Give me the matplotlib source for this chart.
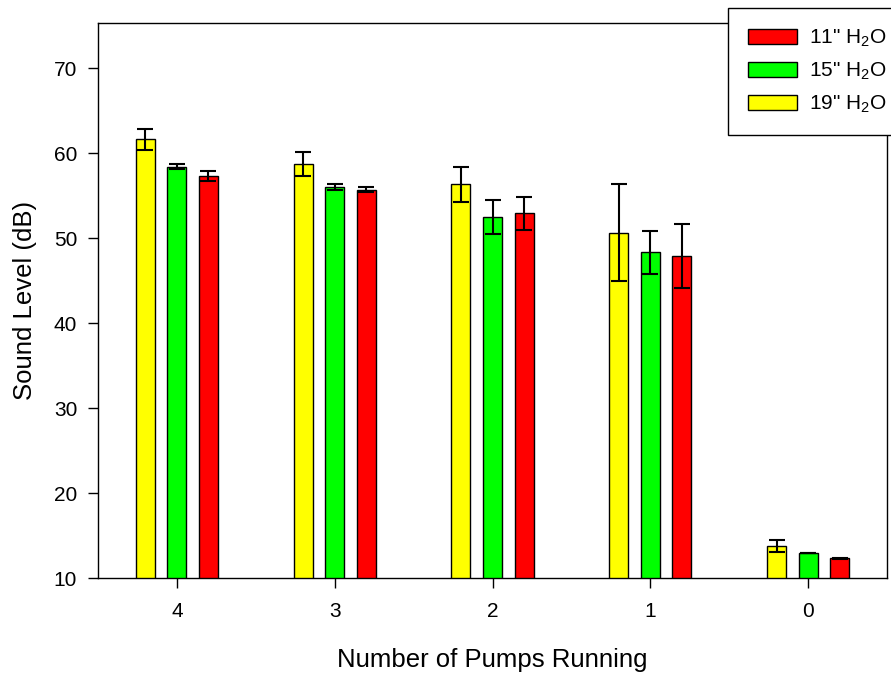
import numpy as np
import matplotlib
matplotlib.use("Agg")
import matplotlib.pyplot as plt

plt.rcParams['font.family'] = ['Liberation Sans', 'DejaVu Sans']
plt.rcParams['mathtext.fontset'] = 'custom'
plt.rcParams['mathtext.rm'] = 'Liberation Sans'
plt.rcParams['mathtext.it'] = 'Liberation Sans'

pumps = ['4', '3', '2', '1', '0']
h19 = [61.6, 58.7, 56.3, 50.6, 13.8]
h19_err = [1.2, 1.4, 2.1, 5.7, 0.7]
h15 = [58.4, 56.0, 52.5, 48.3, 12.95]
h15_err = [0.3, 0.3, 2.0, 2.5, 0.05]
h11 = [57.3, 55.7, 52.9, 47.9, 12.3]
h11_err = [0.6, 0.3, 1.9, 3.8, 0.1]

fig = plt.figure(figsize=(8.91, 6.73), dpi=100)
# axes box: x 98..887, y 23..578 px
ax = fig.add_axes([98/891, 95/673, 789/891, 555/673])

x = np.arange(len(pumps))
w = 0.12
off = 0.2
ekw = dict(ecolor='black', elinewidth=1.5, capsize=6, capthick=1.5)
b19 = ax.bar(x - off, h19, w, color='#ffff00', edgecolor='black', lw=1,
             yerr=h19_err, error_kw=ekw, label='19" H$_2$O')
b15 = ax.bar(x, h15, w, color='#00ff00', edgecolor='black', lw=1,
             yerr=h15_err, error_kw=ekw, label='15" H$_2$O')
b11 = ax.bar(x + off, h11, w, color='#ff0000', edgecolor='black', lw=1,
             yerr=h11_err, error_kw=ekw, label='11" H$_2$O')

ax.set_xlim(-0.5, 4.5)
ax.set_ylim(10, 75.3)
ax.set_xticks(x)
ax.set_xticklabels(pumps)
ax.set_yticks([10, 20, 30, 40, 50, 60, 70])
ax.tick_params(direction='out', length=7, width=1, labelsize=15, pad=8)
ax.tick_params(axis='x', pad=10)
for s in ax.spines.values():
    s.set_linewidth(1)

ax.set_xlabel('Number of Pumps Running', fontsize=18.5, labelpad=20)
ax.set_ylabel('Sound Level (dB)', fontsize=18.5, labelpad=12)

leg = fig.legend([b11, b15, b19], [b11.get_label(), b15.get_label(), b19.get_label()],
                 loc='upper left', bbox_to_anchor=(728/891, 1 - 8/673), fontsize=15,
                 fancybox=False, framealpha=1, edgecolor='black', borderpad=0.95,
                 handlelength=2.35, handleheight=0.72, labelspacing=0.57, handletextpad=0.6,
                 borderaxespad=0)
leg.get_frame().set_linewidth(1)

fig.savefig('out.png', dpi=100)
